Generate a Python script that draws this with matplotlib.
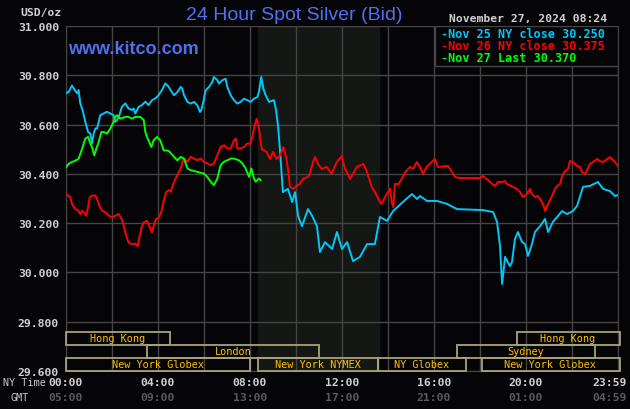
import matplotlib
matplotlib.use("Agg")
import matplotlib.pyplot as plt
from matplotlib.patches import Rectangle
import numpy as np

# Nov 25 (cyan), hours since 00:00 NY time and bid price
nov25_hours = [0.00, 0.12, 0.26, 0.38, 0.48, 0.55, 0.62, 0.72, 0.84, 0.96, 1.06, 1.13, 1.20, 1.28, 1.35,
               1.42, 1.49, 1.64, 1.78, 1.93, 2.07, 2.14, 2.22, 2.32, 2.43, 2.58, 2.72, 2.87, 2.94, 3.01,
               3.09, 3.16, 3.30, 3.45, 3.59, 3.74, 3.88, 4.03, 4.17, 4.32, 4.46, 4.55, 4.70, 4.84, 4.99,
               5.06, 5.13, 5.28, 5.42, 5.57, 5.71, 5.83, 5.88, 5.97, 6.07, 6.22, 6.36, 6.43, 6.58, 6.65,
               6.80, 6.94, 7.01, 7.16, 7.30, 7.45, 7.59, 7.74, 7.88, 8.03, 8.17, 8.32, 8.39, 8.49, 8.58,
               8.68, 8.83, 9.04, 9.13, 9.22, 9.30, 9.43, 9.65, 9.83, 9.96, 10.09, 10.26, 10.52, 10.70,
               10.91, 11.04, 11.26, 11.57, 11.78, 12.00, 12.22, 12.48, 12.78, 13.09, 13.43, 13.65, 13.96,
               14.22, 14.65, 15.04, 15.26, 15.39, 15.70, 16.13, 16.57, 17.00, 18.13, 18.57, 18.74, 18.87,
               18.96, 19.09, 19.30, 19.39, 19.52, 19.65, 19.83, 19.96, 20.09, 20.26, 20.39, 20.61, 20.83,
               20.96, 21.17, 21.57, 21.78, 22.04, 22.22, 22.48, 22.78, 23.13, 23.35, 23.65, 23.87, 24.00]
nov25_price = [30.727, 30.733, 30.758, 30.740, 30.727, 30.740, 30.686, 30.659, 30.611, 30.570, 30.563,
               30.522, 30.563, 30.584, 30.584, 30.611, 30.638, 30.645, 30.652, 30.645, 30.638, 30.611,
               30.618, 30.638, 30.672, 30.686, 30.665, 30.659, 30.665, 30.645, 30.659, 30.672, 30.679,
               30.693, 30.679, 30.699, 30.706, 30.720, 30.740, 30.767, 30.754, 30.739, 30.719, 30.732,
               30.753, 30.746, 30.719, 30.692, 30.685, 30.692, 30.678, 30.651, 30.658, 30.692, 30.739,
               30.753, 30.773, 30.793, 30.780, 30.766, 30.780, 30.786, 30.753, 30.719, 30.699, 30.685,
               30.692, 30.705, 30.699, 30.692, 30.705, 30.712, 30.732, 30.793, 30.746, 30.719, 30.692,
               30.699, 30.660, 30.594, 30.501, 30.326, 30.339, 30.286, 30.326, 30.229, 30.188, 30.257,
               30.230, 30.188, 30.083, 30.123, 30.095, 30.164, 30.095, 30.123, 30.046, 30.063, 30.115,
               30.115, 30.225, 30.209, 30.249, 30.286, 30.318, 30.298, 30.310, 30.290, 30.290, 30.278,
               30.257, 30.253, 30.245, 30.205, 30.107, 29.953, 30.063, 30.026, 30.042, 30.136, 30.164,
               30.123, 30.115, 30.067, 30.115, 30.164, 30.188, 30.217, 30.164, 30.205, 30.249, 30.237,
               30.249, 30.270, 30.347, 30.351, 30.367, 30.339, 30.330, 30.310, 30.314]

# Nov 26 (red)
nov26_hours = [0.00, 0.19, 0.26, 0.41, 0.55, 0.62, 0.70, 0.77, 0.87, 0.96, 1.03, 1.13, 1.28, 1.35, 1.45,
               1.57, 1.71, 1.86, 2.00, 2.14, 2.29, 2.43, 2.51, 2.58, 2.65, 2.72, 2.87, 3.01, 3.12, 3.19,
               3.28, 3.38, 3.52, 3.62, 3.74, 3.81, 3.91, 4.03, 4.14, 4.25, 4.35, 4.46, 4.55, 4.70, 4.84,
               4.99, 5.06, 5.13, 5.28, 5.42, 5.57, 5.71, 5.86, 6.00, 6.14, 6.29, 6.43, 6.58, 6.72, 6.87,
               7.01, 7.16, 7.30, 7.38, 7.45, 7.59, 7.74, 7.88, 8.03, 8.10, 8.17, 8.29, 8.39, 8.51, 8.72,
               8.87, 9.00, 9.16, 9.30, 9.45, 9.59, 9.67, 9.74, 9.88, 10.03, 10.17, 10.30, 10.52, 10.60,
               10.74, 10.83, 10.96, 11.12, 11.33, 11.55, 11.77, 11.99, 12.13, 12.35, 12.48, 12.64, 12.93,
               13.07, 13.29, 13.43, 13.65, 13.72, 13.94, 14.09, 14.16, 14.23, 14.30, 14.45, 14.60, 14.74,
               14.96, 15.09, 15.25, 15.39, 15.52, 15.68, 15.90, 16.04, 16.17, 16.61, 16.78, 16.91, 17.13,
               18.00, 18.13, 18.30, 18.52, 18.65, 18.78, 18.96, 19.09, 19.17, 19.43, 19.61, 19.74, 19.87,
               20.04, 20.17, 20.26, 20.39, 20.52, 20.61, 20.74, 20.83, 20.96, 21.13, 21.26, 21.35, 21.48,
               21.57, 21.70, 21.83, 21.91, 22.04, 22.22, 22.35, 22.43, 22.57, 22.78, 22.91, 23.09, 23.22,
               23.35, 23.65, 23.83, 24.00]
nov26_price = [30.318, 30.305, 30.278, 30.257, 30.250, 30.237, 30.250, 30.244, 30.230, 30.264, 30.305,
               30.312, 30.312, 30.298, 30.271, 30.250, 30.244, 30.230, 30.223, 30.230, 30.237, 30.216,
               30.189, 30.162, 30.141, 30.121, 30.114, 30.117, 30.107, 30.141, 30.182, 30.203, 30.210,
               30.189, 30.162, 30.189, 30.216, 30.223, 30.244, 30.291, 30.325, 30.334, 30.327, 30.368,
               30.395, 30.422, 30.449, 30.462, 30.449, 30.469, 30.462, 30.455, 30.462, 30.449, 30.442,
               30.435, 30.442, 30.476, 30.509, 30.516, 30.503, 30.503, 30.536, 30.543, 30.503, 30.503,
               30.509, 30.523, 30.523, 30.550, 30.584, 30.624, 30.584, 30.501, 30.489, 30.460, 30.489,
               30.460, 30.474, 30.508, 30.460, 30.406, 30.347, 30.339, 30.351, 30.359, 30.380, 30.387,
               30.400, 30.448, 30.468, 30.440, 30.420, 30.428, 30.400, 30.448, 30.472, 30.420, 30.380,
               30.400, 30.428, 30.440, 30.412, 30.347, 30.326, 30.286, 30.278, 30.318, 30.339, 30.286,
               30.265, 30.359, 30.359, 30.380, 30.406, 30.428, 30.420, 30.448, 30.428, 30.400, 30.428,
               30.448, 30.460, 30.428, 30.432, 30.408, 30.387, 30.383, 30.383, 30.391, 30.379, 30.359,
               30.351, 30.367, 30.367, 30.371, 30.359, 30.347, 30.339, 30.326, 30.306, 30.318, 30.339,
               30.318, 30.306, 30.310, 30.298, 30.278, 30.249, 30.278, 30.310, 30.339, 30.351, 30.359,
               30.391, 30.412, 30.420, 30.452, 30.448, 30.432, 30.428, 30.408, 30.399, 30.440, 30.448,
               30.460, 30.452, 30.448, 30.468, 30.452, 30.432]

# Nov 27 (green), up to 08:24
nov27_hours = [0.00, 0.12, 0.26, 0.41, 0.55, 0.70, 0.84, 0.96, 1.06, 1.13, 1.23, 1.32, 1.42, 1.54, 1.64,
               1.78, 1.93, 2.07, 2.14, 2.22, 2.36, 2.58, 2.72, 2.87, 3.01, 3.23, 3.38, 3.45, 3.52, 3.62,
               3.71, 3.81, 3.96, 4.10, 4.17, 4.25, 4.39, 4.48, 4.70, 4.84, 4.99, 5.13, 5.28, 5.42, 5.71,
               6.00, 6.14, 6.29, 6.43, 6.58, 6.72, 6.87, 7.01, 7.16, 7.30, 7.52, 7.67, 7.81, 7.96, 8.06,
               8.17, 8.25, 8.39, 8.46]
nov27_price = [30.427, 30.441, 30.448, 30.454, 30.461, 30.502, 30.543, 30.550, 30.522, 30.509, 30.475,
               30.502, 30.529, 30.570, 30.570, 30.563, 30.584, 30.611, 30.631, 30.638, 30.624, 30.631,
               30.631, 30.624, 30.631, 30.631, 30.618, 30.570, 30.550, 30.529, 30.509, 30.536, 30.550,
               30.536, 30.516, 30.495, 30.495, 30.492, 30.469, 30.455, 30.469, 30.462, 30.422, 30.415,
               30.408, 30.401, 30.388, 30.368, 30.354, 30.381, 30.435, 30.449, 30.455, 30.462, 30.462,
               30.455, 30.442, 30.422, 30.388, 30.422, 30.381, 30.368, 30.381, 30.374]

legend_labels = ["-Nov 25 NY close 30.250", "-Nov 26 NY close 30.375", "-Nov 27 Last 30.370"]

# trading sessions: name, start hour, end hour, row (0 = top row)
session_names = ["Hong Kong", "Hong Kong", "London", "Sydney",
                 "New York Globex", "New York NYMEX", "NY Globex", "New York Globex"]
session_start = [0.0, 19.6, 3.5, 17.0, 0.0, 8.33, 13.55, 18.1]
session_end = [4.5, 24.1, 11.0, 23.0, 8.0, 13.55, 17.4, 24.1]
session_row = [0, 0, 1, 1, 2, 2, 2, 2]

ny_ticks = [0, 4, 8, 12, 16, 20, 24]
ny_labels = ["00:00", "04:00", "08:00", "12:00", "16:00", "20:00", "23:59"]
gmt_labels = ["05:00", "09:00", "13:00", "17:00", "21:00", "01:00", "04:59"]
price_ticks = [29.6, 29.8, 30.0, 30.2, 30.4, 30.6, 30.8, 31.0]

bg = "#050508"
gridc = "#454545"
mono = "DejaVu Sans Mono"

fig = plt.figure(figsize=(6.3, 4.1), dpi=100, facecolor=bg)
ax = fig.add_axes([66 / 630, 1 - 372 / 410, 552 / 630, 345 / 410])
ax.set_facecolor(bg)
ax.set_xlim(0, 24)
ax.set_ylim(29.6, 31.0)


def fx(x, y):
    return x / 630, 1 - y / 410


# NYMEX trading hours shading
ax.axvspan(8.33, 13.6, color="#141714", zorder=0)

for h in range(0, 25, 2):
    ax.axvline(h, color=gridc, lw=1, zorder=1)
for p in price_ticks:
    ax.axhline(p, color=gridc, lw=1, zorder=1)
for s in ax.spines.values():
    s.set_color(gridc)

ax.set_xticks([])
ax.set_yticks(price_ticks)
ax.set_yticklabels(["%.3f" % p for p in price_ticks], family=mono, weight="bold",
                   fontsize=8.2, color="#d0d0d0")
ax.tick_params(axis="y", length=0, pad=5)

ax.plot(nov25_hours, nov25_price, color="#00c8f8", lw=1.4, zorder=4)
ax.plot(nov26_hours, nov26_price, color="#ff0000", lw=1.4, zorder=4)
ax.plot(nov27_hours, nov27_price, color="#00ff00", lw=1.4, zorder=4)

# session boxes along the bottom
row_h = 13 / 246.4
for name, a, b, r in zip(session_names, session_start, session_end, session_row):
    y0 = 29.6 + (2 - r) * row_h
    ax.add_patch(Rectangle((a, y0), b - a, row_h, fill=False, edgecolor="#a8a478",
                           lw=1.3, zorder=5, clip_on=False))
    ax.text((a + min(b, 24)) / 2, y0 + row_h / 2, name, ha="center", va="center",
            family=mono, fontsize=7.4, color="#ffc000", zorder=6)

# legend box
ax.add_patch(Rectangle((16.04, 31.0 - 40 / 246.4), 7.96, 40 / 246.4, facecolor=bg,
                       edgecolor=gridc, lw=1, zorder=3))
for i, (lab, c) in enumerate(zip(legend_labels, ["#00c8f8", "#ff0000", "#00ff00"])):
    fig.text(*fx(441, 34 + 12 * i), lab, ha="left", va="center", family=mono,
             weight="bold", fontsize=8.5, color=c)

# titles and labels
fig.text(*fx(294, 15), "24 Hour Spot Silver (Bid)", ha="center", va="center",
         family="Liberation Sans", fontsize=14, color="#5070f0")
fig.text(*fx(68, 49), "www.kitco.com", ha="left", va="center", family="Liberation Sans",
         weight="bold", fontsize=13, color="#5070f0")
fig.text(*fx(528, 19), "November 27, 2024 08:24", ha="center", va="center", family=mono,
         weight="bold", fontsize=8.2, color="#d0d0d0")
fig.text(*fx(41, 13), "USD/oz", ha="center", va="center", family=mono, weight="bold",
         fontsize=8.2, color="#d0d0d0")
fig.text(*fx(24, 383), "NY Time", ha="center", va="center", family=mono,
         fontsize=7.3, color="#c8c8c8")
fig.text(*fx(20, 398), "GMT", ha="center", va="center", family=mono,
         fontsize=7.3, color="#c8c8c8")

tr = ax.get_xaxis_transform()
for h, a, b in zip(ny_ticks, ny_labels, gmt_labels):
    if h == 24:
        # last label sits inside the figure edge
        fig.text(*fx(627, 383), a, ha="right", va="center", family=mono,
                 weight="bold", fontsize=8.2, color="#d0d0d0")
        fig.text(*fx(627, 398), b, ha="right", va="center", family=mono,
                 weight="bold", fontsize=8.2, color="#5a5a5a")
        continue
    ax.text(h, -11 / 345, a, transform=tr, ha="center", va="center", family=mono,
            weight="bold", fontsize=8.2, color="#d0d0d0")
    ax.text(h, -26 / 345, b, transform=tr, ha="center", va="center", family=mono,
            weight="bold", fontsize=8.2, color="#5a5a5a")

fig.savefig("out.png", dpi=100, facecolor=bg)
